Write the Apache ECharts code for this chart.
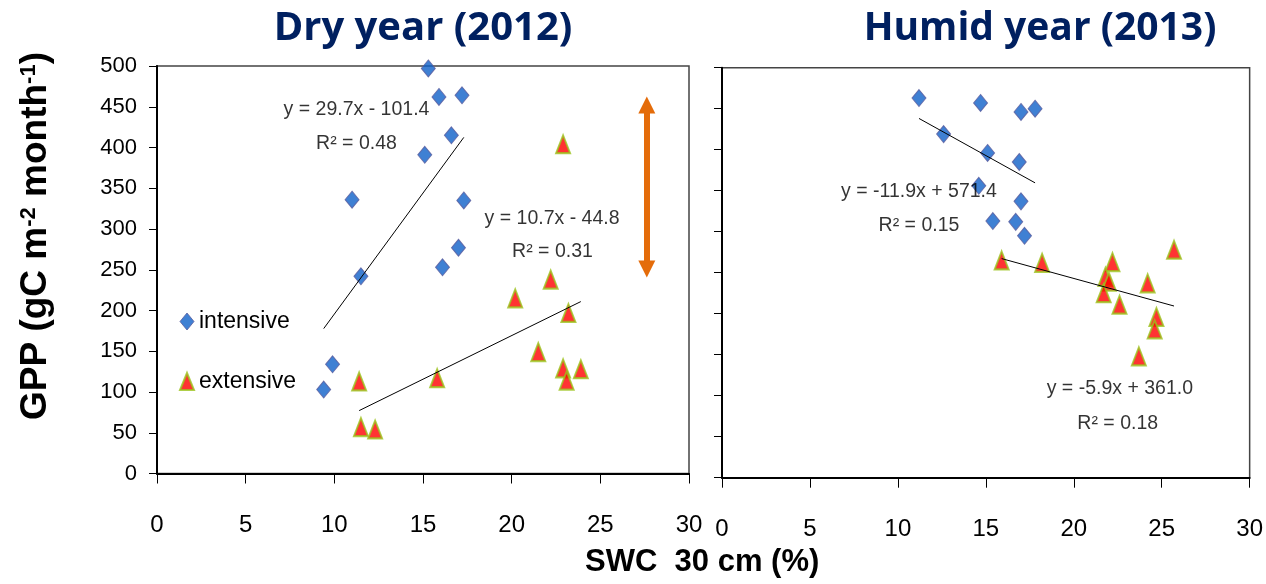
<!DOCTYPE html>
<html>
<head>
<meta charset="utf-8">
<script src="https://cdn.jsdelivr.net/npm/echarts@6/dist/echarts.min.js"></script>
<style>
html,body{margin:0;padding:0;background:#fff;}
#chart{width:1266px;height:584px;}
</style>
</head>
<body>
<div id="chart"></div>
<script>
// ---- data (SWC %, GPP gC m-2 month-1) ----
const dryIntensive = [[15.3,497],[15.9,462],[17.2,464],[16.6,415],[15.1,391],[11.0,336],[17.3,335],[17.0,277],[16.1,253],[11.5,242],[9.9,134],[9.4,103]];
const dryExtensive = [[22.9,404],[11.4,113],[11.5,57],[12.3,54],[15.8,117],[20.2,215],[22.2,238],[23.2,197],[21.5,149],[22.9,129],[23.9,128],[23.1,114]];
const humidIntensive = [[11.2,463],[12.6,419],[14.7,457],[17.0,446],[17.8,450],[15.1,396],[16.9,385],[14.6,356],[17.0,337],[15.4,313],[16.7,312],[17.2,295]];
const humidExtensive = [[15.9,265],[18.2,262],[22.2,263],[25.7,278],[21.8,245],[22.0,239],[21.7,225],[24.2,237],[22.6,211],[24.7,196],[24.6,181],[23.7,148]];
// linear fits [slope, intercept]
const dryIntensiveFit = [29.7, -101.4];
const dryExtensiveFit = [10.7, -44.8];
const humidIntensiveFit = [-11.9, 571.4];
const humidExtensiveFit = [-5.9, 361.0];
const fitTexts = ['y = 29.7x - 101.4','R² = 0.48','y = 10.7x - 44.8','R² = 0.31','y = -11.9x + 571.4','R² = 0.15','y = -5.9x + 361.0','R² = 0.18'];
const panelTitles = ['Dry year (2012)','Humid year (2013)'];
const seriesNames = ['intensive','extensive'];
const xTicks = {min:0, max:30, step:5};
const yTicks = {min:0, max:500, step:50};

const FONT = 'Liberation Sans, Arial, sans-serif';

function fitLine(points, fit){
  const xs = points.map(p=>p[0]);
  const x0 = Math.min(...xs), x1 = Math.max(...xs);
  return [[x0, fit[0]*x0+fit[1]],[x1, fit[0]*x1+fit[1]]];
}

const diamondStyle = {color:'#0F60C8', borderColor:'#5A5C9E', borderWidth:1};
const triangleStyle = {color:'#FF0000', borderColor:'#9BC31C', borderWidth:2};

function xAxisFor(g){
  return {gridIndex:g, type:'value', min:xTicks.min, max:xTicks.max, interval:xTicks.step,
    axisLine:{show:true, onZero:false, lineStyle:{color:'#000', width:2}},
    axisTick:{show:true, length:10, lineStyle:{color:'#000', width:1}},
    splitLine:{show:false},
    axisLabel:{margin:40, fontSize:24, color:'#000', fontFamily:FONT}};
}
function yAxisFor(g){
  return {gridIndex:g, type:'value', min:yTicks.min, max:yTicks.max, interval:yTicks.step,
    axisLine:{show:true, onZero:false, lineStyle:{color:'#000', width:2}},
    axisTick:{show:true, length:8, lineStyle:{color:'#000', width:1}},
    splitLine:{show:false},
    axisLabel:{show:g===0, margin:20, fontSize:22, color:'#000', fontFamily:FONT}};
}

function scatter(name, data, g, symbol, style, size){
  return {name, type:'scatter', xAxisIndex:g, yAxisIndex:g, data, symbol, symbolSize:size, itemStyle:style, z:3};
}
function trend(points, fit, g){
  return {type:'line', xAxisIndex:g, yAxisIndex:g, data:fitLine(points, fit), symbol:'none', silent:true,
    lineStyle:{color:'#000', width:1}, z:4};
}
function textItem(pos, txt){
  return {value:pos, label:{show:true, position:'inside', formatter:txt, fontSize:19.5, color:'#000',
    textBorderWidth:0, fontFamily:FONT}};
}

const option = {
  animation:false,
  backgroundColor:'#fff',
  title:[
    {text:panelTitles[0], left:418, top:4, textAlign:'center', textStyle:{fontFamily:'Open Sans, sans-serif', fontWeight:'bold', fontSize:40, color:'#002060'}},
    {text:panelTitles[1], left:1035, top:4, textAlign:'center', textStyle:{fontFamily:'Open Sans, sans-serif', fontWeight:'bold', fontSize:39, color:'#002060'}}
  ],
  legend:{
    data:[{name:seriesNames[0], icon:'diamond', itemStyle:diamondStyle},{name:seriesNames[1], icon:'triangle', itemStyle:triangleStyle}],
    orient:'vertical', left:174, top:305, itemWidth:14, itemHeight:17, itemGap:37,
    textStyle:{fontSize:23, color:'#000', fontFamily:FONT}
  },
  grid:[
    {left:157, top:66, width:532, height:407.5, show:true, borderColor:'#444', borderWidth:1.5},
    {left:722, top:67.7, width:530.5, height:410, show:true, borderColor:'#444', borderWidth:1.5}
  ],
  xAxis:[xAxisFor(0), xAxisFor(1)],
  yAxis:[yAxisFor(0), yAxisFor(1)],
  graphic:[
    {type:'text', left:585, top:547, style:{text:'SWC  30 cm (%)', fontSize:31, fontWeight:'bold', fill:'#000', fontFamily:FONT}},
    {type:'text', x:36, y:236, rotation:Math.PI/2,
      style:{text:'GPP (gC m{sup|-2} month{sup|-1})', fontSize:37, fontWeight:'bold', fill:'#000', fontFamily:FONT,
        align:'center', verticalAlign:'middle',
        rich:{sup:{fontSize:22, fontWeight:'bold', fill:'#000', fontFamily:FONT, verticalAlign:'top'}}}}
  ],
  series:[
    scatter(seriesNames[0], dryIntensive, 0, 'diamond', diamondStyle, [14,17]),
    scatter(seriesNames[1], dryExtensive, 0, 'triangle', triangleStyle, [14,18]),
    scatter(seriesNames[0], humidIntensive, 1, 'diamond', diamondStyle, [14,17]),
    scatter(seriesNames[1], humidExtensive, 1, 'triangle', triangleStyle, [14,18]),
    trend(dryIntensive, dryIntensiveFit, 0),
    trend(dryExtensive, dryExtensiveFit, 0),
    trend(humidIntensive, humidIntensiveFit, 1),
    trend(humidExtensive, humidExtensiveFit, 1),
    {type:'scatter', xAxisIndex:0, yAxisIndex:0, symbolSize:0.1, itemStyle:{color:'transparent'}, silent:true, z:5,
      data:[textItem([11.25,446],fitTexts[0]), textItem([11.25,405],fitTexts[1]), textItem([22.28,313],fitTexts[2]), textItem([22.3,272],fitTexts[3])],
      markLine:{silent:true, symbol:['triangle','triangle'], symbolSize:[17,17], precision:2,
        lineStyle:{color:'#E46C0A', width:6, type:'solid'}, label:{show:false},
        emphasis:{disabled:true},
        data:[[{coord:[27.62,452]},{coord:[27.62,251]}]]}
    },
    {type:'scatter', xAxisIndex:1, yAxisIndex:1, symbolSize:0.1, itemStyle:{color:'transparent'}, silent:true, z:5,
      data:[textItem([11.2,349],fitTexts[4]), textItem([11.2,308],fitTexts[5]), textItem([22.62,109],fitTexts[6]), textItem([22.5,66],fitTexts[7])]
    }
  ]
};
const chart = echarts.init(document.getElementById('chart'), null, {renderer:'canvas'});
chart.setOption(option);
</script>
</body>
</html>
